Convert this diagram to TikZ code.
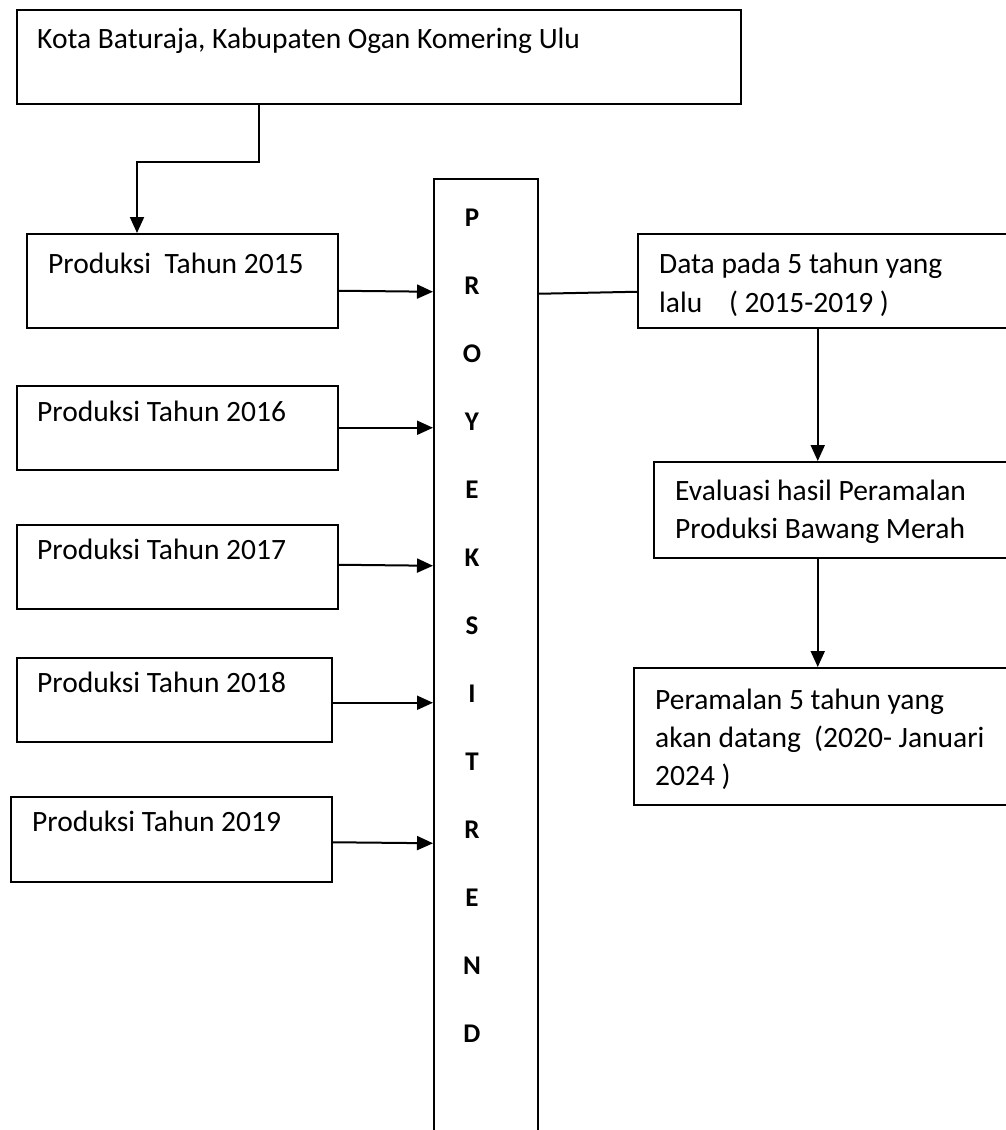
\documentclass[tikz,border=0pt]{standalone}
\usepackage{fontspec}
\setmainfont{Carlito}
\usetikzlibrary{arrows.meta}
\tikzset{
  kotak/.style={draw, line width=1.5pt, inner sep=0pt, anchor=north west},
  teks/.style={inner sep=0pt, anchor=base west, font=\fontsize{29.5}{35}\selectfont},
  huruf/.style={inner sep=0pt, font=\fontsize{27}{30}\selectfont\bfseries},
  panah/.style={line width=2pt, -{Triangle[length=16pt,width=14pt]}},
  garis/.style={line width=2pt}
}
\begin{document}
\begin{tikzpicture}[x=1pt,y=-1pt]
    \fill[white] (0,0) rectangle (1006,1130);
    \useasboundingbox (0,0) rectangle (1006,1130);

    \node[kotak, minimum width=724pt, minimum height=94pt] (kota) at (16,9) {};
    \node[teks] (tkota) at (37,48) {Kota Baturaja, Kabupaten Ogan Komering Ulu};

    \node[kotak, minimum width=311pt, minimum height=94pt] (p15) at (26,233) {};
    \node[teks] (t15) at (48,273) {Produksi\ \ Tahun 2015};
    \node[kotak, minimum width=321pt, minimum height=84pt] (p16) at (16,385) {};
    \node[teks] (t16) at (37,421) {Produksi Tahun 2016};
    \node[kotak, minimum width=321pt, minimum height=84pt] (p17) at (16,524) {};
    \node[teks] (t17) at (37,559) {Produksi Tahun 2017};
    \node[kotak, minimum width=315pt, minimum height=84pt] (p18) at (16,657) {};
    \node[teks] (t18) at (37,692) {Produksi Tahun 2018};
    \node[kotak, minimum width=321pt, minimum height=85pt] (p19) at (10,796) {};
    \node[teks] (t19) at (32,831) {Produksi Tahun 2019};

    % kolom proyeksi trend
    \node[kotak, minimum width=104pt, minimum height=1000pt] (trend) at (433,178) {};
    \foreach \h [count=\i from 0] in {P,R,O,Y,E,K,S,I,T,R,E,N,D}
        \node[huruf] (h\i) at (472,218+68*\i) {\h};

    \node[kotak, minimum width=380pt, minimum height=94pt] (data) at (637,233) {};
    \node[teks] (td1) at (659,273) {Data pada 5 tahun yang};
    \node[teks] (td2) at (659,312) {lalu\ \ \ \ ( 2015-2019 )};
    \node[kotak, minimum width=364pt, minimum height=96pt] (eval) at (653,461) {};
    \node[teks] (te1) at (675,500) {Evaluasi hasil Peramalan};
    \node[teks] (te2) at (675,538) {Produksi Bawang Merah};
    \node[kotak, minimum width=384pt, minimum height=137pt] (ramal) at (633,667) {};
    \node[teks] (tr1) at (655,709) {Peramalan 5 tahun yang};
    \node[teks] (tr2) at (655,747) {akan datang\ \ (2020- Januari};
    \node[teks] (tr3) at (655,785) {2024 )};

    \coordinate (k1) at (259,162);
    \coordinate (k2) at (137,162);
    \draw[panah] (kota.south -| k1) -- (k1) -- (k2) -- (p15.north -| k2);

    \draw[panah] ([yshift=-10pt]p15.east) -- ([yshift=-11pt]p15.east -| trend.west);
    \draw[panah] (p16.east) -- (p16.east -| trend.west);
    \draw[panah] ([yshift=2pt]p17.east) -- ([yshift=1pt]p17.east -| trend.west);
    \draw[panah] ([yshift=-3pt]p18.east) -- ([yshift=-3pt]p18.east -| trend.west);
    \draw[panah] ([yshift=-3pt]p19.east) -- ([yshift=-4pt]p19.east -| trend.west);

    \draw[garis] ([yshift=-13pt]trend.east |- data.west) -- ([yshift=-11pt]data.west);
    \draw[panah] ([xshift=-10pt]data.south) -- ([xshift=-10pt]data.south |- eval.north);
    \draw[panah] ([xshift=-10pt]data.south |- eval.south) -- ([xshift=-10pt]data.south |- ramal.north);
\end{tikzpicture}
\end{document}
